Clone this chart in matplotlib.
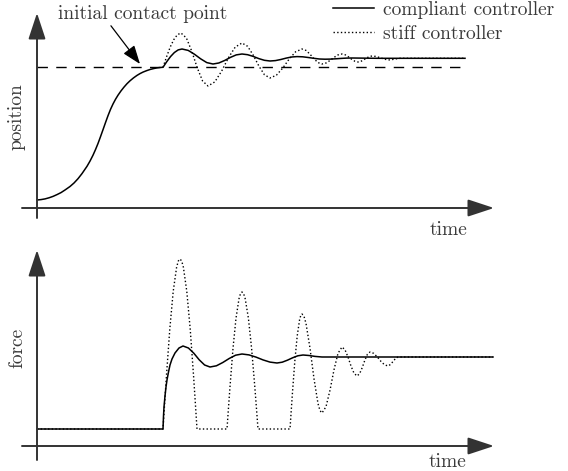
import matplotlib
matplotlib.use("Agg")
import matplotlib.pyplot as plt
from matplotlib.lines import Line2D

# ---------------- data ----------------
# time and position / force in arbitrary units
approach_time = [0.0, 0.4, 0.8, 1.2, 1.6, 2.0, 2.4, 2.8, 3.3, 3.7, 4.1, 4.5,
                 5.0, 5.3, 5.6, 5.85, 6.1, 6.35, 6.6, 6.85, 7.1, 7.35, 7.6,
                 7.85, 8.1, 8.4, 8.7, 9.0, 9.3, 9.65, 10.0, 10.3, 10.6, 10.95,
                 11.3, 11.65, 12.0, 12.3, 12.6]
approach_pos = [0.80, 0.84, 0.91, 1.02, 1.16, 1.34, 1.54, 1.80, 2.15, 2.50,
                2.93, 3.44, 4.17, 4.69, 5.28, 5.84, 6.45, 7.13, 7.83, 8.54,
                9.23, 9.86, 10.40, 10.87, 11.28, 11.71, 12.09, 12.43, 12.72,
                13.01, 13.26, 13.44, 13.59, 13.73, 13.85, 13.94, 14.01, 14.05,
                14.07]

contact_level = 14.1
contact_line_time = [0.0, 42.8]

compliant_pos_time = [12.6, 12.98, 13.36, 13.74, 14.12, 14.5,
                      15.12, 15.74, 16.36, 16.98, 17.6,
                      18.18, 18.76, 19.34, 19.92, 20.5,
                      21.06, 21.62, 22.18, 22.74, 23.3,
                      23.84, 24.38, 24.92, 25.46, 26.0,
                      26.56, 27.12, 27.68, 28.24, 28.8,
                      29.34, 29.88, 30.42, 30.96, 31.5, 34.0, 42.8]
compliant_pos = [14.07, 14.64, 15.15, 15.55, 15.81, 15.9,
                 15.76, 15.38, 14.92, 14.54, 14.4,
                 14.50, 14.75, 15.06, 15.31, 15.4,
                 15.33, 15.16, 14.94, 14.77, 14.7,
                 14.74, 14.85, 14.99, 15.10, 15.14,
                 15.12, 15.05, 14.97, 14.90, 14.88,
                 14.89, 14.92, 14.96, 14.99, 15.0, 14.97, 14.97]

stiff_pos_time = [12.6, 12.96, 13.32, 13.68, 14.04, 14.4,
                  14.94, 15.48, 16.02, 16.56, 17.1,
                  17.78, 18.46, 19.14, 19.82, 20.5,
                  21.06, 21.62, 22.18, 22.74, 23.3,
                  23.94, 24.58, 25.22, 25.86, 26.5,
                  26.9, 27.3, 27.7, 28.1, 28.5,
                  28.9, 29.3, 29.7, 30.1, 30.5,
                  30.82, 31.14, 31.46, 31.78, 32.1,
                  32.38, 32.66, 32.94, 33.22, 33.5,
                  33.86, 34.22, 34.58, 34.94, 35.3,
                  35.8, 36.3, 42.8]
stiff_pos = [14.07, 15.13, 16.09, 16.84, 17.33, 17.5,
             17.0, 15.67, 14.03, 12.70, 12.2,
             12.61, 13.68, 15.02, 16.09, 16.5,
             16.17, 15.29, 14.21, 13.33, 13.0,
             13.28, 14.0, 14.9, 15.62, 15.9,
             15.76, 15.38, 14.92, 14.54, 14.4,
             14.50, 14.75, 15.06, 15.31, 15.4,
             15.32, 15.12, 14.88, 14.68, 14.6,
             14.66, 14.81, 14.99, 15.14, 15.2,
             15.16, 15.06, 14.94, 14.84, 14.8,
             14.9, 14.97, 14.97]

compliant_force_time = [0.0, 12.6, 12.65, 12.7, 12.8, 12.9, 13.0, 13.15, 13.3,
                        13.5, 13.8, 14.2, 14.6,
                        15.14, 15.68, 16.22, 16.76, 17.3,
                        17.94, 18.58, 19.22, 19.86, 20.5,
                        21.2, 21.9, 22.6, 23.3, 24.0,
                        24.52, 25.04, 25.56, 26.08, 26.6,
                        27.2, 27.8, 28.5, 45.6]
compliant_force = [1.7, 1.7, 3.0, 3.9, 5.0, 5.9, 6.6, 7.4, 8.1,
                   8.7, 9.3, 9.8, 10.0,
                   9.80, 9.28, 8.62, 8.10, 7.9,
                   8.02, 8.35, 8.75, 9.08, 9.2,
                   9.11, 8.89, 8.61, 8.39, 8.3,
                   8.38, 8.58, 8.82, 9.02, 9.1,
                   9.05, 8.96, 8.9, 8.9]

stiff_force_time = [0.0, 12.6, 12.77, 12.94, 13.28, 13.62, 13.96, 14.13, 14.3,
                    14.47, 14.64, 14.98, 15.32, 15.66, 15.83, 16.0,
                    19.0, 19.15, 19.3, 19.6, 19.9, 20.2, 20.35, 20.5,
                    20.66, 20.82, 21.14, 21.46, 21.78, 21.94, 22.1,
                    25.3, 25.42, 25.54, 25.78, 26.02, 26.26, 26.38, 26.5,
                    26.7, 26.9, 27.3, 27.7, 28.1, 28.3, 28.5,
                    28.9, 29.3, 29.7, 30.1, 30.5,
                    30.8, 31.1, 31.4, 31.7, 32.0,
                    32.26, 32.52, 32.78, 33.04, 33.3,
                    33.66, 34.02, 34.38, 34.74, 35.1,
                    35.35, 35.6, 35.85, 36.1, 45.6]
stiff_force = [1.7, 1.7, 4.35, 6.95, 11.7, 15.45, 17.87, 18.5, 18.7,
               18.5, 17.87, 15.45, 11.7, 6.95, 4.35, 1.7,
               1.7, 3.84, 5.93, 9.76, 12.78, 14.73, 15.24, 15.4,
               15.24, 14.73, 12.78, 9.76, 5.93, 3.84, 1.7,
               1.7, 3.49, 5.25, 8.46, 11.0, 12.64, 13.06, 13.2,
               12.96, 12.26, 9.78, 6.72, 4.24, 3.54, 3.3,
               3.93, 5.58, 7.62, 9.27, 9.9,
               9.62, 8.9, 8.0, 7.28, 7.0,
               7.23, 7.83, 8.57, 9.17, 9.4,
               9.27, 8.92, 8.48, 8.13, 8.0,
               8.15, 8.45, 8.75, 8.9, 8.9]

series_labels = ["compliant controller", "stiff controller"]
axis_labels = ["position", "force", "time"]
annotation_text = "initial contact point"

# ---------------- figure ----------------
W, H = 568, 471
fig = plt.figure(figsize=(W / 100, H / 100), dpi=100)
FONT = "cmr10"
FS = 14
TXT = "#3a3a3a"
AX = "#333333"

ax1 = fig.add_axes([0, (H - 236) / H, 1, 236 / H])
ax2 = fig.add_axes([0, 0, 1, 235 / H])
for ax in (ax1, ax2):
    ax.set_axis_off()
    ax.set_xlim(-3.7, 53.1)
ax1.set_ylim(-2.8, 20.8)
ax2.set_ylim(-2.5, 21.0)

arrow_kw = dict(arrowstyle="-|>,head_length=0.85,head_width=0.28", color=AX,
                lw=1.4, mutation_scale=19, shrinkA=0, shrinkB=0)

# axes with arrow heads
ax1.annotate("", xy=(45.7, 0), xytext=(-1.5, 0), arrowprops=arrow_kw)
ax1.annotate("", xy=(0, 19.5), xytext=(0, -1.0), arrowprops=arrow_kw)
ax2.annotate("", xy=(45.7, 0), xytext=(-1.5, 0), arrowprops=arrow_kw)
ax2.annotate("", xy=(0, 19.6), xytext=(0, -1.4), arrowprops=arrow_kw)

# position panel
ax1.plot(contact_line_time, [contact_level, contact_level], color="black",
         lw=1.0, dashes=(7.5, 6), clip_on=False)
ax1.plot(approach_time + compliant_pos_time[1:], approach_pos + compliant_pos[1:],
         color="black", lw=1.1, clip_on=False, solid_joinstyle="round")
ax1.plot(stiff_pos_time, stiff_pos, color="black", lw=1.0, ls=":", clip_on=False)

# force panel
ax2.plot(compliant_force_time, compliant_force, color="black", lw=1.1,
         clip_on=False, solid_joinstyle="round")
ax2.plot(stiff_force_time, stiff_force, color="black", lw=1.0, ls=":",
         clip_on=False)

# labels
ax1.text(-2.0, 9.1, axis_labels[0], rotation=90, ha="center", va="center",
         fontsize=FS, family=FONT, color=TXT)
ax2.text(-2.0, 9.8, axis_labels[1], rotation=90, ha="center", va="center",
         fontsize=FS, family=FONT, color=TXT)
ax1.text(41.1, -2.2, axis_labels[2], ha="center", va="center",
         fontsize=FS, family=FONT, color=TXT)
ax2.text(41.0, -1.6, axis_labels[2], ha="center", va="center",
         fontsize=FS, family=FONT, color=TXT)

# annotation
ax1.annotate(annotation_text, xy=(10.3, 14.4), xytext=(2.1, 19.4),
             fontsize=FS, family=FONT, color=TXT, ha="left", va="center",
             arrowprops=dict(arrowstyle="-|>,head_length=0.6,head_width=0.22",
                             color="black", lw=0.9, mutation_scale=19,
                             shrinkA=0, shrinkB=0,
                             relpos=(0.3, 0.0)))

# legend
handles = [Line2D([], [], color="black", lw=1.1),
           Line2D([], [], color="black", lw=1.0, ls=":")]
leg = fig.legend(handles, series_labels, loc="upper left",
                 bbox_to_anchor=(333 / W, 1 - 1 / H), frameon=False,
                 prop={"family": FONT, "size": FS}, handlelength=2.1,
                 handletextpad=0.45, labelspacing=0.3, borderpad=0,
                 borderaxespad=0)
for t in leg.get_texts():
    t.set_color(TXT)

fig.savefig("out.png", dpi=100)
